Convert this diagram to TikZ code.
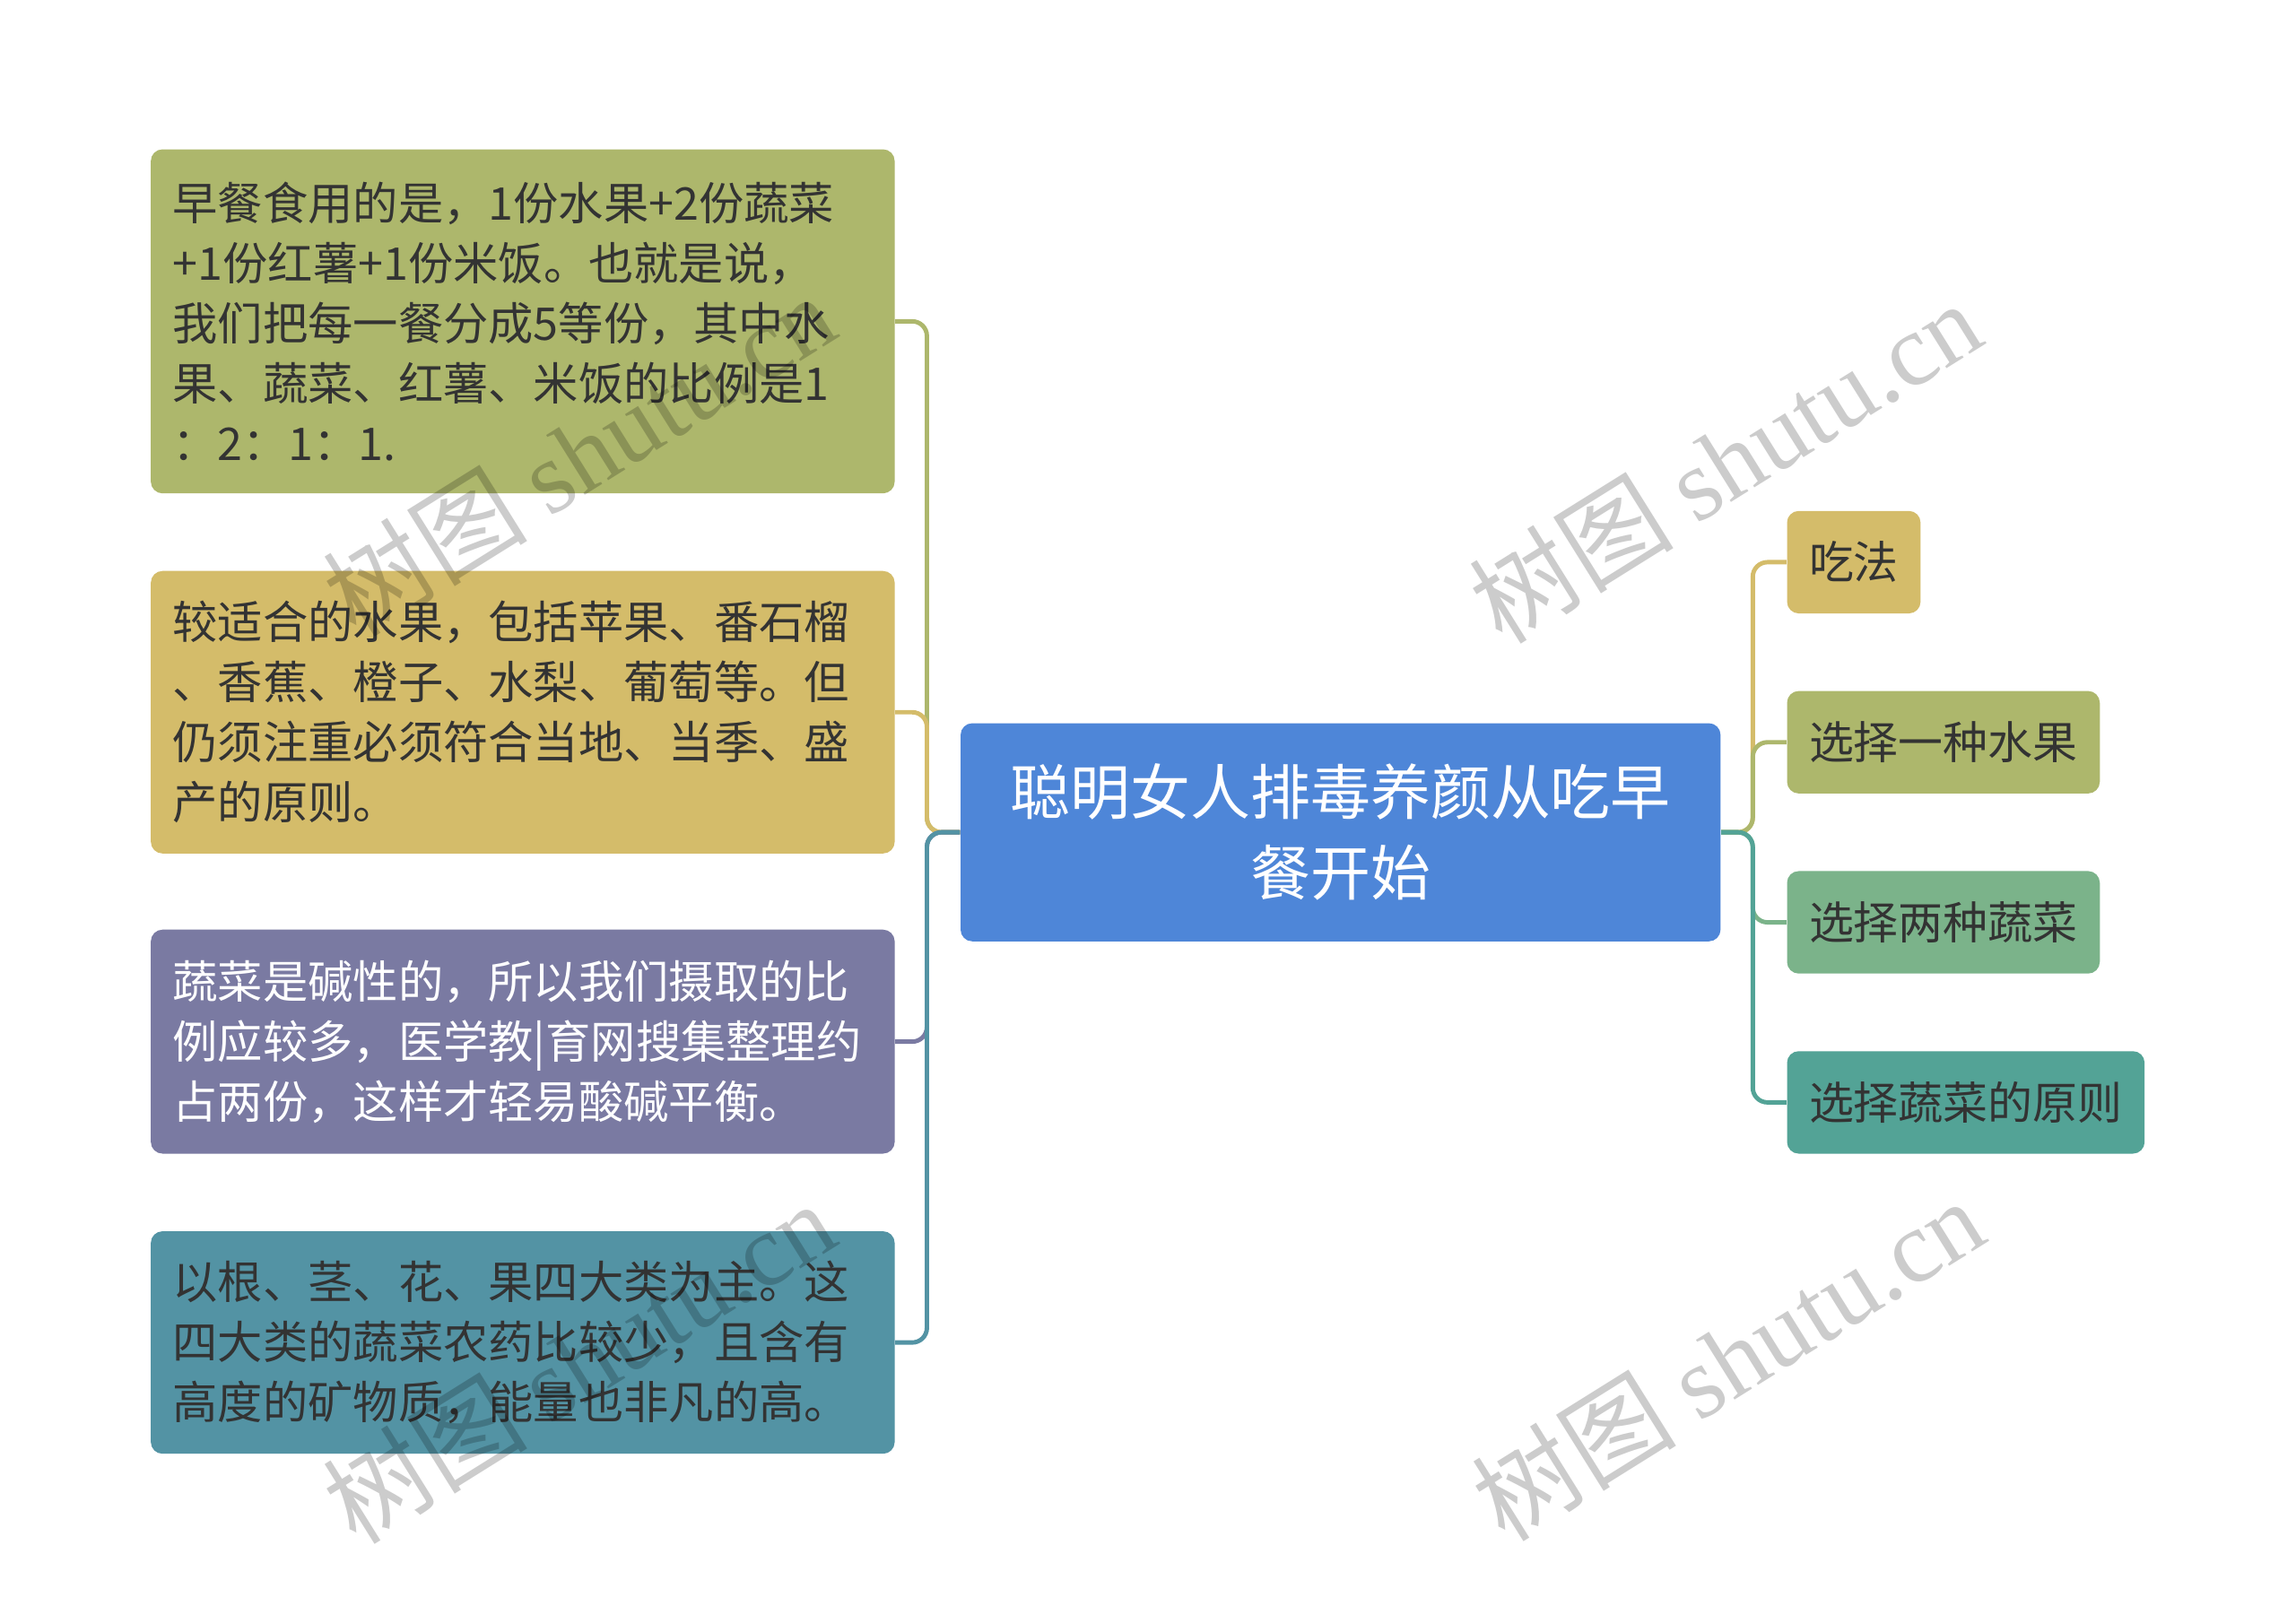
\documentclass[tikz,border=0pt]{standalone}
\usepackage{fontspec}
\setmainfont{Noto Sans CJK SC}
\newfontfamily\wmlatin{Liberation Serif}
\usepackage{xcolor}
\usetikzlibrary{positioning}
\definecolor{cgreen}{HTML}{ADB76C}
\definecolor{cyellow}{HTML}{D4BC6A}
\definecolor{cpurple}{HTML}{7A7AA2}
\definecolor{cblue}{HTML}{5393A4}
\definecolor{chub}{HTML}{4E86D8}
\definecolor{cmint}{HTML}{7BB38A}
\definecolor{cteal}{HTML}{53A396}
\definecolor{ctext}{HTML}{333333}

\begin{document}
\begin{tikzpicture}[x=0.5pt,y=-0.5pt]
\tikzstyle{leftbox}=[rounded corners=4pt, text width=239pt, inner xsep=7.5pt, inner ysep=0pt, align=left, text=ctext, font=\fontsize{15.4pt}{20.5pt}\selectfont]
\tikzstyle{rightbox}=[rounded corners=4pt, anchor=west, inner xsep=7.5pt, inner ysep=0pt, minimum height=35pt, text=ctext, font=\fontsize{15.3pt}{20.5pt}\selectfont]
\tikzstyle{link}=[line width=1.5pt, rounded corners=5pt]
\tikzstyle{wmark}=[rotate=32, text=black, opacity=0.2, font=\fontsize{35pt}{37pt}\selectfont]
\useasboundingbox (0,0) rectangle (1568,1096.4);
\node[rounded corners=4pt, fill=chub, text=white, align=center, minimum width=259.5pt, minimum height=74.5pt, inner sep=0pt, font=\fontsize{20.5pt}{27.5pt}\selectfont] (hub) at (915.5,568.5) {聪明女人排毒养颜从吃早\\餐开始};
\coordinate (lbus) at (633,568.5);
\coordinate (rbus) at (1197,568.5);
\node[leftbox, fill=cgreen, minimum height=117.5pt] (meal) at (357,219.5) {早餐食用的是，1份水果+2份蔬菜\\+1份红薯+1份米饭。也就是说，\\我们把每一餐分成5等份，其中水\\果、蔬菜、红薯、米饭的比例是1\\：2：1：1.};
\node[leftbox, fill=cyellow, minimum height=96.5pt] (fruit) at (357,486.5) {较适合的水果，包括苹果、番石榴\\、香蕉、橙子、水梨、葡萄等。但\\仍须注重必须符合当地、当季、盛\\产的原则。};
\node[leftbox, fill=cpurple, text=white, minimum height=76.5pt] (alkali) at (357,711.5) {蔬菜是碱性的，所以我们摄取的比\\例应较多，医学教|育网搜集整理约\\占两份，这样才轻易酸碱平衡。};
\node[leftbox, fill=cblue, minimum height=76pt] (kinds) at (357,917) {以根、茎、花、果四大类为主。这\\四大类的蔬菜农药比较少，且含有\\高度的矿物质，能量也非凡的高。};
\node[rightbox, fill=cyellow] (howto) at (1220,384) {吃法};
\node[rightbox, fill=cgreen] (onefruit) at (1220,507) {选择一种水果};
\node[rightbox, fill=cmint] (twoveg) at (1220,630) {选择两种蔬菜};
\node[rightbox, fill=cteal] (rule) at (1220,753) {选择蔬菜的原则};
\draw[link, cgreen] (meal.east) -- (lbus |- meal.east) -- (lbus) -- (hub.west);
\draw[link, cyellow] (fruit.east) -- (lbus |- fruit.east) -- (lbus) -- (hub.west);
\draw[link, cpurple] (alkali.east) -- (lbus |- alkali.east) -- (lbus) -- (hub.west);
\draw[link, cblue] (kinds.east) -- (lbus |- kinds.east) -- (lbus) -- (hub.west);
\draw[link, cyellow] (hub.east) -- (rbus) -- (rbus |- howto.west) -- (howto.west);
\draw[link, cgreen] (hub.east) -- (rbus) -- (rbus |- onefruit.west) -- (onefruit.west);
\draw[link, cmint] (hub.east) -- (rbus) -- (rbus |- twoveg.west) -- (twoveg.west);
\draw[link, cteal] (hub.east) -- (rbus) -- (rbus |- rule.west) -- (rule.west);
\node[wmark] (wm1) at (395,310) {树图 {\wmlatin shutu.cn}};
\node[wmark] (wm2) at (1178,315) {树图 {\wmlatin shutu.cn}};
\node[wmark] (wm3) at (395,930) {树图 {\wmlatin shutu.cn}};
\node[wmark] (wm4) at (1180,928) {树图 {\wmlatin shutu.cn}};
\end{tikzpicture}
\end{document}
